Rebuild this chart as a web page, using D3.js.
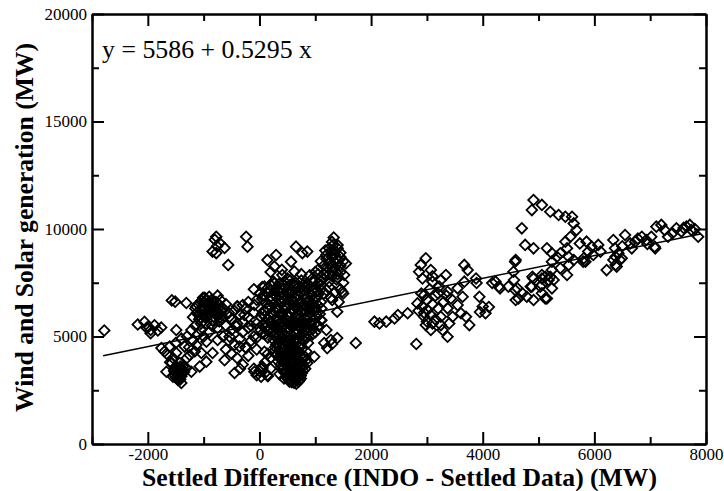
<!DOCTYPE html>
<html><head><meta charset="utf-8">
<script src="https://cdn.jsdelivr.net/npm/d3@7"></script>
<style>body{margin:0;background:#fff;} svg{display:block;} text{font-family:"Liberation Serif","DejaVu Serif",serif;}</style>
</head><body>
<svg id="chart" width="724" height="491"></svg>
<script>
// ---- data (Settled Difference MW, Wind+Solar generation MW) ----
const leftGroup = [[-2780,5280],[-2180,5560],[-2060,5680],[-2020,5400],[-1990,5450],[-1950,5300],[-1950,5150],[-1880,5520],[-1820,5280],[-1760,5420],[-1570,6680],[-1510,6620],[-1310,6560],[-1490,5300],[-1220,5300]];
const lowLeftGroup = [[-1756,4460],[-1700,4300],[-1667,3360],[-1640,4140],[-1607,4530],[-1600,3800],[-1570,3770],[-1550,3130],[-1550,4000],[-1530,3400],[-1520,3500],[-1500,3600],[-1500,4700],[-1490,4230],[-1480,3250],[-1470,3050],[-1460,2980],[-1450,3350],[-1430,3770],[-1430,3150],[-1420,3600],[-1410,3450],[-1400,2840],[-1400,4900],[-1390,3300],[-1370,3600],[-1340,4530],[-1310,3530],[-1300,4000],[-1300,5000],[-1260,4500],[-1250,4140],[-1220,3360],[-1200,4800],[-1160,4300],[-1130,4600],[-1100,5100],[-1070,3600],[-1040,4230],[-1000,5000],[-952,3830],[-950,4760],[-900,5200],[-840,4230],[-750,4840],[-625,3900],
 [-1520,3200],[-1490,3100],[-1460,3400],[-1440,3250],[-1420,3000],[-1400,3150],[-1380,3450],[-1510,3350],[-1470,3550],[-1350,3350]];
const blobGroup = [[-1190,5900],[-1150,5500],[-1150,6300],[-1120,6100],[-1100,6500],[-1080,5800],[-1060,6250],[-1050,5300],[-1050,5600],[-1040,6650],[-1020,6000],[-1000,6400],[-1000,6600],[-980,6800],[-960,6150],[-950,5600],[-940,5900],[-920,6550],[-900,6300],[-900,6850],[-880,6050],[-860,6700],[-850,5500],[-840,5750],[-820,6400],[-800,6150],[-780,6600],[-760,5950],[-750,5400],[-740,6300],[-720,5700],[-700,6050],[-680,5850],[-650,6250],
 [-1130,6400],[-1090,6000],[-1030,6200],[-990,6550],[-970,5950],[-930,6450],[-910,6050],[-870,6500],[-830,6250],[-810,5900],[-790,6350],[-770,6100],[-730,6500],[-710,5900],[-690,6200],[-1060,5900],[-1010,6800],[-950,6700],[-870,6200],[-830,6650]];
const topLeftGroup = [[-840,8950],[-800,9500],[-774,9640],[-774,8880],[-760,9200],[-714,9350],[-625,9120],[-560,8330],[-238,9640],[-214,9180]];
const midLeftGroup = [[-750,6900],[-700,6700],[-650,6300],[-650,5000],[-600,6500],[-600,5500],[-600,4400],[-550,6100],[-550,4800],[-536,5920],[-536,4990],[-500,5800],[-500,5300],[-500,4200],[-450,6200],[-450,4600],[-446,3300],[-416,5460],[-400,6400],[-400,5600],[-400,4000],[-393,6390],[-357,4530],[-350,6000],[-350,4900],[-350,3500],[-300,6465],[-300,5700],[-300,5200],[-300,3700],[-270,6000],[-250,6300],[-250,4500],[-238,4460],[-200,6600],[-200,5900],[-200,5400],[-200,4100],[-150,5500],[-150,4800],[-100,7200],[-100,6100],[-100,5000],[-100,3500],[-89,6470],[-90,3360],[-60,4920],[-50,6700],[-50,5600],[-50,4400],[-50,3200],[0,7000],[0,3400],[30,3130],[50,7300],[50,3600],[54,3530],[89,4290],[100,6900],[100,3800],[100,3300],[143,3210],[150,4200],[150,3150],[200,4000],[200,3500]];
const coreBottom = [[620,2850],[700,2900],[560,2950],[650,3000],[740,3050],[480,3100],[600,3150],[690,3200],[530,3250],[760,3300],[440,3350],[620,3400],[700,3450],[510,3500],[380,3550],[650,3600],[780,3650],[560,3700],[450,3750],[700,3800],[330,3850],[600,3900],[500,3950],[760,4000],[400,4050],[650,4100],[300,4150],[550,4200],[720,4250],[450,4300],[350,4350],[620,4400],[500,4450],[280,4500],[700,4550],[420,4600],[580,4650],[330,4700],[650,4750],[480,4800],[250,4850],[560,4900],[400,4950],[720,5000],[820,3500],[840,4300],[870,4700],[520,3050],[580,3350],[420,3950],[680,3700],[350,4550],[560,4450],[480,4150],
 [660,2800],[580,2880],[720,2980],[620,3080],[560,3180],[740,3180],[640,3280],[470,3300],[720,3380],[560,3450],[420,3480],[600,3560],[740,3560],[500,3620],[640,3680],[380,3700],[540,3780],[760,3780],[620,3840],[460,3880],[700,3930],[560,4000],[360,4000],[640,4020],[460,4100],[740,4120],[600,4180],[380,4230],[680,4330],[520,4350],[420,4420],[760,4420],[600,4520],[460,4550],[300,4620],[740,4650],[520,4700],[380,4780],[620,4830],[300,4950],[480,4980],[680,4920],[780,4850],[820,4050],[260,4300],[840,3900],[540,2900],[780,3400],[360,3250],[440,3050]];
const coreMiddle = [[100,5100],[300,5150],[500,5200],[700,5250],[900,5300],[200,5350],[400,5400],[600,5450],[800,5500],[50,5550],[350,5600],[550,5650],[750,5700],[950,5750],[150,5800],[450,5850],[650,5900],[850,5950],[250,6000],[50,6050],[550,6100],[750,6150],[1000,6200],[350,6250],[150,6300],[650,6350],[850,6400],[450,6450],[250,6500],[950,6550],[600,6600],[750,6650],[350,6700],[50,6750],[850,6800],[500,6850],[700,6900],[1050,6950],[250,7000],[900,7050],[600,7100],[800,7150],[400,7200],[1000,7250],[700,7300],[550,7400],[850,7450],[950,7550],[150,7250],[300,6850],[1100,6600],[1150,7000],
 [20,5300],[120,5450],[220,5650],[320,5350],[420,5550],[520,5900],[620,5700],[720,5450],[820,5800],[920,5550],[1020,5900],[80,6200],[180,6450],[280,6150],[380,6600],[480,6300],[580,6750],[680,6050],[780,6450],[880,6700],[980,6350],[1080,6050],[130,7050],[230,6750],[330,7100],[430,6950],[530,7250],[630,6850],[730,7050],[830,7250],[930,6900],[1030,7100],[450,7550],[650,7500],[750,7600],[350,5050],[650,5100],[850,5150],[250,5250],[550,5350],
 [60,5150],[160,5250],[260,5450],[460,5300],[560,5500],[660,5300],[760,5350],[860,5450],[960,5350],[1060,5500],[110,5650],[310,5800],[410,5700],[610,5550],[710,5850],[910,5900],[1110,5750],[30,5900],[210,6100],[410,6100],[610,6200],[810,6250],[910,6150],[1110,6300],[110,6550],[310,6400],[510,6550],[710,6550],[910,6400],[1010,6750],[60,6900],[200,6850],[400,6800],[520,7000],[680,6700],[800,6950],[960,7150],[1100,7200],[200,7400],[350,7450],[500,7150],[620,7350],[780,7400],[900,7300],[1050,7450],[250,7550],[550,7600],
 [150,4950],[250,5100],[450,5050],[550,4900],[750,5050],[850,4950],[950,5100],[100,5400],[300,5500],[500,5400],[700,5550],[900,5650],[200,5700],[400,5950],[600,5800],[800,5650],[1000,5600],[100,5950],[300,6250],[500,6050],[700,6250],[900,6300],[200,6650],[450,6650],[650,6450],[850,6550],[1050,6450],[300,7250],[700,7150],[450,7350]];
const upperArm = [[1000,7600],[1150,7700],[1300,7800],[900,7850],[1400,7900],[1200,8000],[1050,8100],[1350,8200],[1450,8300],[1250,8400],[1100,8500],[1400,8600],[1300,8700],[1200,8800],[1450,8900],[1350,9000],[1250,9100],[1400,9250],[1300,9400],[1330,9600],[1500,7500],[1450,7200],[1350,7050],[1250,7300],[1100,7400],[1450,8000],[1500,8500],[1200,7150],[1380,7650],[1280,6800],[1420,6600],[1500,7000],[1150,8300],[1050,7900],
 [950,7700],[1100,7600],[1250,7550],[1400,7750],[1000,8000],[1150,7900],[1300,8050],[1220,8200],[1380,8400],[1300,8250],[1200,8600],[1350,8800],[1280,8950],[1400,9100],[1450,8700],[1180,9000],[1320,9250],[1250,7900]];
const scatterAbove = [[143,8560],[298,8790],[268,8250],[411,7860],[566,8480],[655,9180],[768,8880],[857,8950],[625,8020],[89,7320],[268,7470],[400,8100],[500,7700],[750,7900],[200,8000]];
const rightOfCore = [[1160,4700],[1280,4840],[1393,4930],[1214,4460],[1300,4650],[1726,4700],[982,4060],[857,3770],[1100,5770],[1393,6150],[1303,6700],[1482,7080],[1518,7860],[1548,8400],[1200,5300],[1000,5200]];
const midRightGroup = [[2060,5690],[2150,5610],[2270,5690],[2420,5840],[2480,6000],[2655,6080],[2810,4650],[2980,8640],[2890,8330],[2860,8010],[3070,8090],[2920,7700],[3100,7550],[3250,7630],[3340,7860],[3220,7320],[2950,6930],[2830,6540],[2920,6390],[3010,6230],[3070,6000],[2950,5920],[2980,5530],[3100,5610],[3070,5300],[3250,5530],[3370,4990],[3280,5300],[3400,5610],[3250,5920],[3460,5920],[3370,6310],[3430,6770],[3550,6460],[3640,6850],[3610,6080],[3700,5920],[3760,5530],[3940,6850],[4000,6390],[4050,6080],[3670,8330],[3730,8090],[3880,7700],[3670,7550],[3550,7240],[3370,7080],[4230,7550],[4290,7320],[4170,7490],[2900,7000],[3000,6700],[3050,7200],[3100,6500],[3150,6900],[3200,6300],[3150,5800],[3000,5700],[2950,6100],[3300,6600],[3350,6900],[2850,6200],[3100,7800],[3200,7000],[3890,7490],[4110,6370],[3950,6140]];
const rightGroup = [[4310,7240],[4460,7320],[4550,8010],[4560,7630],[4580,8480],[4580,7160],[4590,8560],[4590,6700],[4620,7240],[4640,6770],[4700,10030],[4710,7010],[4760,9260],[4790,6850],[4860,7320],[4880,10880],[4880,7320],[4890,7780],[4910,11350],[4910,9100],[4910,7700],[4910,6700],[5030,7320],[5060,11120],[5060,7860],[5060,7700],[5060,7400],[5060,7010],[5120,7780],[5120,6770],[5150,9100],[5150,6770],[5180,7630],[5210,10800],[5210,7780],[5240,8870],[5240,8480],[5240,8090],[5240,7240],[5270,7630],[5330,8710],[5360,10650],[5390,8870],[5390,8170],[5480,10570],[5480,9410],[5510,9100],[5510,7860],[5540,8710],[5540,8330],[5570,9640],[5600,10570],[5630,10260],[5630,8560],[5680,9950],[5740,9330],[5800,8480],[5810,8640],[5840,8480],[5860,9410],[5890,8950],[5950,9180],[5980,8790],[6070,9260],[6110,8950],[6220,8090],[6340,9490],[6340,8560],[6370,9100],[6380,8330],[6380,8710],[6400,8250],[6430,8870],[6460,8560],[6490,8640],[6550,9720],[6640,9330],[6670,9100],[6730,9410],[6850,9640],[6930,9490],[7020,9640],[7080,9180],[7090,9100],[7110,10110],[7200,10190],[7260,9950],[7320,9640],[7470,10030],[7560,9880],[7650,10110],[7710,10190],[7740,9950],[7860,9640],[6500,9200],[6780,9550],[7400,9800],[7600,10050],[7800,10000],[6950,9300]];

const fitIntercept = 5586, fitSlope = 0.5295;
const fitRange = [-2800, 7900];
const equationLabel = "y = 5586 + 0.5295 x";
const xTickValues = [-2000, 0, 2000, 4000, 6000, 8000];
const xMinorTicks = [-3000, -1000, 1000, 3000, 5000, 7000];
const yTickValues = [0, 5000, 10000, 15000, 20000];
const yMinorTicks = [2500, 7500, 12500, 17500];
const xTitle = "Settled Difference (INDO - Settled Data) (MW)";
const yTitle = "Wind and Solar generation (MW)";

// ---- layout ----
const W = 724, H = 491;
const m = {left: 92, right: 18, top: 14, bottom: 47};
const svg = d3.select("#chart");
const x = d3.scaleLinear().domain([-3000, 8000]).range([m.left, W - m.right]);
const y = d3.scaleLinear().domain([0, 20000]).range([H - m.bottom, m.top]);
const serif = '"Liberation Serif","DejaVu Serif",serif';
const fmt = d => String(d);

const points = [].concat(leftGroup, lowLeftGroup, blobGroup, topLeftGroup, midLeftGroup,
  coreBottom, coreMiddle, upperArm, scatterAbove, rightOfCore, midRightGroup, rightGroup);

// markers
const diamond = d3.symbol().type(d3.symbolSquare).size(56)();
svg.append("g").selectAll("path").data(points).join("path")
  .attr("d", diamond)
  .attr("transform", d => `translate(${x(d[0])},${y(d[1])}) rotate(45)`)
  .attr("fill", "none").attr("stroke", "#000").attr("stroke-width", 1.8);

// regression line
svg.append("line")
  .attr("x1", x(fitRange[0])).attr("y1", y(fitIntercept + fitSlope * fitRange[0]))
  .attr("x2", x(fitRange[1])).attr("y2", y(fitIntercept + fitSlope * fitRange[1]))
  .attr("stroke", "#000").attr("stroke-width", 1.5);

// axes
function styleAxis(g, keepText) {
  g.attr("font-family", null).attr("font-size", null);
  g.selectAll("path.domain").attr("stroke", "#000").attr("stroke-width", 2);
  g.selectAll(".tick line").attr("stroke", "#000").attr("stroke-width", 2);
  if (keepText) {
    g.selectAll("text").style("font-family", serif).style("font-size", "17px").attr("fill", "#000");
  } else {
    g.selectAll("text").remove();
  }
}
const yB = H - m.bottom, xR = W - m.right;
svg.append("g").attr("transform", `translate(0,${yB})`)
  .call(d3.axisBottom(x).tickValues(xTickValues).tickSize(-12).tickSizeOuter(0).tickPadding(4).tickFormat(fmt))
  .call(styleAxis, true);
svg.append("g").attr("transform", `translate(0,${yB})`)
  .call(d3.axisBottom(x).tickValues(xMinorTicks).tickSize(-7).tickSizeOuter(0))
  .call(styleAxis, false);
svg.append("g").attr("transform", `translate(0,${m.top})`)
  .call(d3.axisTop(x).tickValues(xTickValues).tickSize(-12).tickSizeOuter(0))
  .call(styleAxis, false);
svg.append("g").attr("transform", `translate(0,${m.top})`)
  .call(d3.axisTop(x).tickValues(xMinorTicks).tickSize(-7).tickSizeOuter(0))
  .call(styleAxis, false);
svg.append("g").attr("transform", `translate(${m.left},0)`)
  .call(d3.axisLeft(y).tickValues(yTickValues).tickSize(-12).tickSizeOuter(0).tickPadding(5).tickFormat(fmt))
  .call(styleAxis, true);
svg.append("g").attr("transform", `translate(${m.left},0)`)
  .call(d3.axisLeft(y).tickValues(yMinorTicks).tickSize(-7).tickSizeOuter(0))
  .call(styleAxis, false);
svg.append("g").attr("transform", `translate(${xR},0)`)
  .call(d3.axisRight(y).tickValues(yTickValues).tickSize(-12).tickSizeOuter(0))
  .call(styleAxis, false);
svg.append("g").attr("transform", `translate(${xR},0)`)
  .call(d3.axisRight(y).tickValues(yMinorTicks).tickSize(-7).tickSizeOuter(0))
  .call(styleAxis, false);

// equation
svg.append("text").attr("x", 102).attr("y", 58)
  .style("font-family", serif).style("font-size", "25px")
  .attr("textLength", 210).attr("lengthAdjust", "spacingAndGlyphs")
  .text(equationLabel);

// axis titles
svg.append("text").attr("x", 399.5).attr("y", 486).attr("text-anchor", "middle")
  .style("font-family", serif).style("font-weight", "bold").style("font-size", "25px")
  .attr("textLength", 515).attr("lengthAdjust", "spacingAndGlyphs")
  .text(xTitle);
svg.append("text").attr("transform", "translate(33,227.5) rotate(-90)").attr("text-anchor", "middle")
  .style("font-family", serif).style("font-weight", "bold").style("font-size", "25.6px")
  .attr("textLength", 369).attr("lengthAdjust", "spacingAndGlyphs")
  .text(yTitle);
</script></body></html>
